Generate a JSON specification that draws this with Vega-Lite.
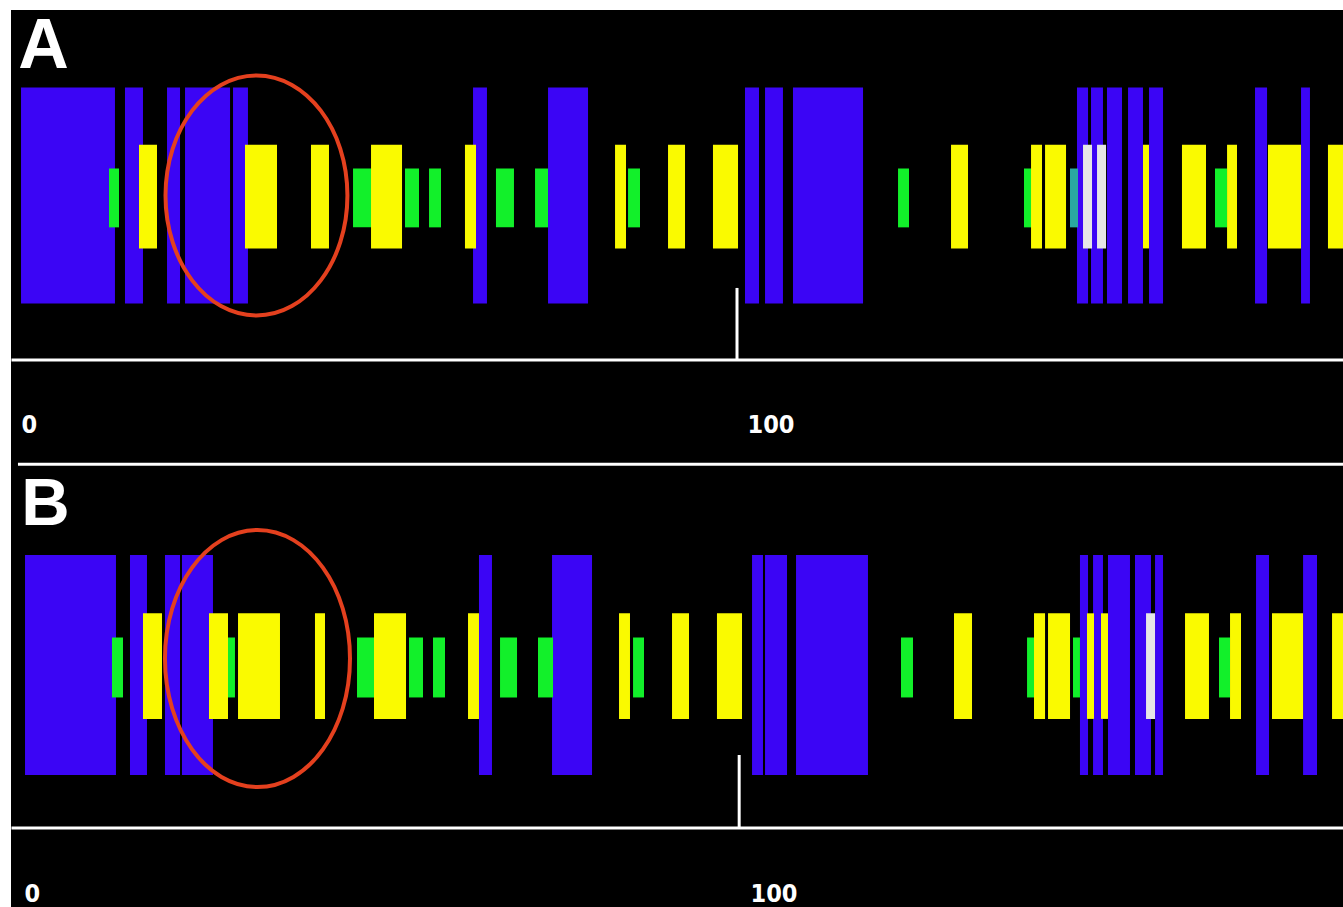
{
  "$schema": "https://vega.github.io/schema/vega-lite/v6.json",
  "background": "white",
  "padding": {"left": 11, "top": 10, "right": 0, "bottom": 0},
  "spacing": 0,
  "config": {
    "view": {"fill": "black", "stroke": null},
    "axisX": {"domainColor": "white", "domainWidth": 3, "ticks": false, "grid": false, "labelColor": "white", "labelFont": "DejaVu Sans Condensed", "labelFontSize": 25, "labelFontWeight": "bold", "labelAlign": "left", "labelBaseline": "top", "labelOffset": 10, "labelFlush": false, "labelBound": false, "labelOverlap": false}
  },
  "datasets": {
    "bars": [
      {"p":"A","t":"blue","s":1.38,"e":14.32},{"p":"A","t":"blue","s":15.70,"e":18.18},{"p":"A","t":"blue","s":21.49,"e":23.28},{"p":"A","t":"blue","s":23.97,"e":30.17},{"p":"A","t":"blue","s":30.58,"e":32.64},{"p":"A","t":"blue","s":63.64,"e":65.56},{"p":"A","t":"blue","s":73.97,"e":79.48},{"p":"A","t":"blue","s":101.10,"e":103.03},{"p":"A","t":"blue","s":103.86,"e":106.33},{"p":"A","t":"blue","s":107.71,"e":117.36},{"p":"A","t":"blue","s":146.83,"e":148.35},{"p":"A","t":"blue","s":148.76,"e":150.41},{"p":"A","t":"blue","s":150.96,"e":153.03},{"p":"A","t":"blue","s":153.86,"e":155.92},{"p":"A","t":"blue","s":156.75,"e":158.68},{"p":"A","t":"blue","s":171.35,"e":173.01},{"p":"A","t":"blue","s":177.69,"e":178.92},
      {"p":"A","t":"green","s":13.50,"e":14.88},{"p":"A","t":"green","s":47.11,"e":49.72},{"p":"A","t":"green","s":54.27,"e":56.20},{"p":"A","t":"green","s":57.58,"e":59.23},{"p":"A","t":"green","s":66.80,"e":69.28},{"p":"A","t":"green","s":72.18,"e":73.97},{"p":"A","t":"green","s":84.99,"e":86.64},{"p":"A","t":"green","s":122.18,"e":123.69},{"p":"A","t":"green","s":139.53,"e":140.64},{"p":"A","t":"green","s":165.84,"e":167.50},
      {"p":"A","t":"teal","s":145.87,"e":146.97},
      {"p":"A","t":"yellow","s":17.63,"e":20.11},{"p":"A","t":"yellow","s":32.23,"e":36.64},{"p":"A","t":"yellow","s":41.32,"e":43.80},{"p":"A","t":"yellow","s":49.59,"e":53.86},{"p":"A","t":"yellow","s":62.53,"e":64.05},{"p":"A","t":"yellow","s":83.20,"e":84.71},{"p":"A","t":"yellow","s":90.50,"e":92.84},{"p":"A","t":"yellow","s":96.69,"e":100.14},{"p":"A","t":"yellow","s":129.48,"e":131.82},{"p":"A","t":"yellow","s":140.50,"e":142.01},{"p":"A","t":"yellow","s":142.43,"e":145.32},{"p":"A","t":"yellow","s":155.92,"e":156.75},{"p":"A","t":"yellow","s":161.29,"e":164.60},{"p":"A","t":"yellow","s":167.50,"e":168.87},{"p":"A","t":"yellow","s":173.14,"e":177.69},{"p":"A","t":"yellow","s":181.40,"e":184.0},
      {"p":"A","t":"white","s":147.66,"e":148.90},{"p":"A","t":"white","s":149.59,"e":150.83},
      {"p":"B","t":"blue","s":1.93,"e":14.46},{"p":"B","t":"blue","s":16.39,"e":18.73},{"p":"B","t":"blue","s":21.21,"e":23.28},{"p":"B","t":"blue","s":23.55,"e":27.82},{"p":"B","t":"blue","s":64.46,"e":66.25},{"p":"B","t":"blue","s":74.52,"e":80.03},{"p":"B","t":"blue","s":102.07,"e":103.58},{"p":"B","t":"blue","s":103.86,"e":106.89},{"p":"B","t":"blue","s":108.13,"e":118.04},{"p":"B","t":"blue","s":147.24,"e":148.35},{"p":"B","t":"blue","s":149.04,"e":150.41},{"p":"B","t":"blue","s":151.10,"e":154.13},{"p":"B","t":"blue","s":154.82,"e":157.02},{"p":"B","t":"blue","s":157.58,"e":158.68},{"p":"B","t":"blue","s":171.49,"e":173.28},{"p":"B","t":"blue","s":177.97,"e":179.89},
      {"p":"B","t":"green","s":13.91,"e":15.43},{"p":"B","t":"green","s":29.34,"e":30.85},{"p":"B","t":"green","s":47.66,"e":50.14},{"p":"B","t":"green","s":54.82,"e":56.75},{"p":"B","t":"green","s":58.13,"e":59.78},{"p":"B","t":"green","s":67.36,"e":69.70},{"p":"B","t":"green","s":72.59,"e":74.66},{"p":"B","t":"green","s":85.68,"e":87.19},{"p":"B","t":"green","s":122.59,"e":124.24},{"p":"B","t":"green","s":139.95,"e":141.32},{"p":"B","t":"green","s":146.28,"e":147.24},{"p":"B","t":"green","s":166.39,"e":167.91},
      {"p":"B","t":"yellow","s":18.18,"e":20.80},{"p":"B","t":"yellow","s":27.27,"e":29.89},{"p":"B","t":"yellow","s":31.27,"e":37.05},{"p":"B","t":"yellow","s":41.87,"e":43.25},{"p":"B","t":"yellow","s":50.00,"e":54.41},{"p":"B","t":"yellow","s":62.95,"e":64.46},{"p":"B","t":"yellow","s":83.75,"e":85.26},{"p":"B","t":"yellow","s":91.05,"e":93.39},{"p":"B","t":"yellow","s":97.24,"e":100.69},{"p":"B","t":"yellow","s":129.89,"e":132.37},{"p":"B","t":"yellow","s":140.91,"e":142.43},{"p":"B","t":"yellow","s":142.84,"e":145.87},{"p":"B","t":"yellow","s":148.21,"e":149.17},{"p":"B","t":"yellow","s":150.14,"e":151.10},{"p":"B","t":"yellow","s":161.71,"e":165.01},{"p":"B","t":"yellow","s":167.91,"e":169.42},{"p":"B","t":"yellow","s":173.69,"e":177.97},{"p":"B","t":"yellow","s":181.96,"e":184.0},
      {"p":"B","t":"white","s":156.34,"e":157.58}
    ]
  },
  "resolve": {"scale": {"y": "independent"}},
  "vconcat": [
    {
      "width": 1332,
      "height": 452,
      "data": {"name": "bars"},
      "transform": [{"filter": "datum.p === 'A'"}],
      "layer": [
        {
          "transform": [{"filter": "datum.t === 'blue'"}],
          "mark": {"type": "rect", "clip": true, "color": "#3b05f5"},
          "encoding": {
            "x": {"field": "s", "type": "quantitative", "scale": {"domain": [0, 183.47], "nice": false, "zero": false}, "axis": {"values": [0, 100], "title": null, "offset": -102.5, "labelPadding": 53}},
            "x2": {"field": "e"},
            "y": {"datum": 1, "type": "quantitative", "scale": {"domain": [-2.4676, 1.7176], "nice": false, "zero": false}, "axis": null},
            "y2": {"datum": -1}
          }
        },
        {
          "transform": [{"filter": "datum.t === 'green' || datum.t === 'teal'"}],
          "mark": {"type": "rect", "clip": true},
          "encoding": {
            "x": {"field": "s", "type": "quantitative"},
            "x2": {"field": "e"},
            "y": {"datum": 0.25, "type": "quantitative", "axis": null},
            "y2": {"datum": -0.295},
            "color": {"field": "t", "type": "nominal", "scale": {"domain": ["green", "teal", "yellow", "white"], "range": ["#12f02a", "#2aa8a0", "#fafa00", "#e6e6e6"]}, "legend": null}
          }
        },
        {
          "transform": [{"filter": "datum.t === 'yellow' || datum.t === 'white'"}],
          "mark": {"type": "rect", "clip": true},
          "encoding": {
            "x": {"field": "s", "type": "quantitative"},
            "x2": {"field": "e"},
            "y": {"datum": 0.47, "type": "quantitative", "axis": null},
            "y2": {"datum": -0.49},
            "color": {"field": "t", "type": "nominal", "legend": null}
          }
        },
        {
          "data": {"values": [{}]},
          "mark": {"type": "rule", "color": "white", "strokeWidth": 3},
          "encoding": {
            "x": {"datum": 100, "type": "quantitative"},
            "y": {"datum": -0.856, "type": "quantitative", "axis": null},
            "y2": {"datum": -1.5185}
          }
        },
        {
          "data": {"values": [{}]},
          "mark": {"type": "text", "text": "A", "font": "Liberation Sans", "fontWeight": "bold", "fontSize": 70, "color": "white", "align": "left", "baseline": "alphabetic"},
          "encoding": {
            "x": {"datum": 1.0, "type": "quantitative"},
            "y": {"datum": 1.1806, "type": "quantitative", "axis": null}
          }
        },
        {
          "data": {"values": [{}]},
          "mark": {"type": "point", "shape": "M -0.758 0 A 0.758 1 0 1 1 0.758 0 A 0.758 1 0 1 1 -0.758 0 Z", "size": 57600, "filled": false, "stroke": "#e4401e", "strokeWidth": 4, "opacity": 1},
          "encoding": {
            "x": {"datum": 33.81, "type": "quantitative"},
            "y": {"datum": 0.0, "type": "quantitative", "axis": null}
          }
        }
      ]
    },
    {
      "width": 1332,
      "height": 445,
      "data": {"name": "bars"},
      "transform": [{"filter": "datum.p === 'B'"}],
      "layer": [
        {
          "transform": [{"filter": "datum.t === 'blue'"}],
          "mark": {"type": "rect", "clip": true, "color": "#3b05f5"},
          "encoding": {
            "x": {"field": "s", "type": "quantitative", "scale": {"domain": [0, 183.47], "nice": false, "zero": false}, "axis": {"values": [0, 100], "title": null, "offset": -79.5, "labelPadding": 54, "labelOffset": 13}},
            "x2": {"field": "e"},
            "y": {"datum": 1, "type": "quantitative", "scale": {"domain": [-2.2, 1.8455], "nice": false, "zero": false}, "axis": null},
            "y2": {"datum": -1}
          }
        },
        {
          "transform": [{"filter": "datum.t === 'green' || datum.t === 'teal'"}],
          "mark": {"type": "rect", "clip": true},
          "encoding": {
            "x": {"field": "s", "type": "quantitative"},
            "x2": {"field": "e"},
            "y": {"datum": 0.25, "type": "quantitative", "axis": null},
            "y2": {"datum": -0.295},
            "color": {"field": "t", "type": "nominal", "scale": {"domain": ["green", "teal", "yellow", "white"], "range": ["#12f02a", "#2aa8a0", "#fafa00", "#e6e6e6"]}, "legend": null}
          }
        },
        {
          "transform": [{"filter": "datum.t === 'yellow' || datum.t === 'white'"}],
          "mark": {"type": "rect", "clip": true},
          "encoding": {
            "x": {"field": "s", "type": "quantitative"},
            "x2": {"field": "e"},
            "y": {"datum": 0.47, "type": "quantitative", "axis": null},
            "y2": {"datum": -0.49},
            "color": {"field": "t", "type": "nominal", "legend": null}
          }
        },
        {
          "data": {"values": [{}]},
          "mark": {"type": "rule", "color": "white", "strokeWidth": 3},
          "encoding": {
            "x": {"datum": 100.3, "type": "quantitative"},
            "y": {"datum": -0.818, "type": "quantitative", "axis": null},
            "y2": {"datum": -1.477}
          }
        },
        {
          "data": {"values": [{}]},
          "mark": {"type": "rule", "color": "white", "strokeWidth": 3},
          "encoding": {
            "x": {"datum": 0.96, "type": "quantitative"},
            "x2": {"datum": 183.47},
            "y": {"datum": 1.825, "type": "quantitative", "axis": null}
          }
        },
        {
          "data": {"values": [{}]},
          "mark": {"type": "text", "text": "B", "font": "Liberation Sans", "fontWeight": "bold", "fontSize": 67, "color": "white", "align": "left", "baseline": "alphabetic"},
          "encoding": {
            "x": {"datum": 1.4, "type": "quantitative"},
            "y": {"datum": 1.273, "type": "quantitative", "axis": null}
          }
        },
        {
          "data": {"values": [{}]},
          "mark": {"type": "point", "shape": "M -0.72 0 A 0.72 1 0 1 1 0.72 0 A 0.72 1 0 1 1 -0.72 0 Z", "size": 66049, "filled": false, "stroke": "#e4401e", "strokeWidth": 4, "opacity": 1},
          "encoding": {
            "x": {"datum": 33.95, "type": "quantitative"},
            "y": {"datum": 0.059, "type": "quantitative", "axis": null}
          }
        }
      ]
    }
  ]
}
